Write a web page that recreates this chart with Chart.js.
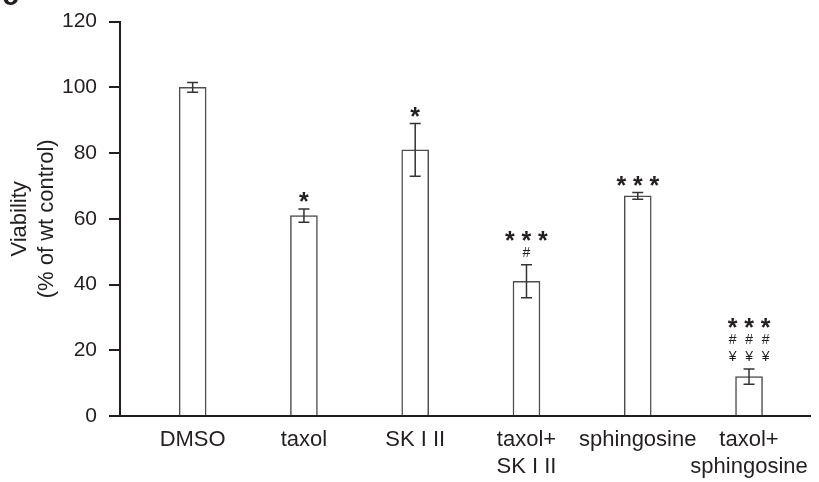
<!DOCTYPE html>
<html>
<head>
<meta charset="utf-8">
<script src="https://cdn.jsdelivr.net/npm/chart.js@4/dist/chart.umd.min.js"></script>
<style>
  html, body { margin: 0; padding: 0; background: #fff; }
  #wrap { width: 819px; height: 482px; }
</style>
</head>
<body>
<div id="wrap"><canvas id="c" width="819" height="482"></canvas></div>
<script>
// ---- data ----
const categories = [
  ['DMSO'], ['taxol'], ['SK I II'], ['taxol+', 'SK I II'], ['sphingosine'], ['taxol+', 'sphingosine']
];
const viability = [100, 61, 81, 41, 67, 12];
const errors = [1.5, 2, 8, 5, 1, 2.3];
const significance = [
  [],
  ['*'],
  ['*'],
  ['***', '#'],
  ['***'],
  ['***', '###', '¥¥¥']
];
const yTicks = [0, 20, 40, 60, 80, 100, 120];

const INK = '#231f20';
const FONT = "'Liberation Sans', Arial, Helvetica, sans-serif";

const errorBarPlugin = {
  id: 'errorBars',
  afterDatasetsDraw(chart) {
    const { ctx, scales: { x, y } } = chart;
    ctx.save();
    ctx.strokeStyle = '#333';
    ctx.lineWidth = 1.5;
    viability.forEach((v, i) => {
      const px = x.getPixelForValue(i);
      const top = y.getPixelForValue(v + errors[i]);
      const bot = y.getPixelForValue(v - errors[i]);
      ctx.beginPath();
      ctx.moveTo(px, top); ctx.lineTo(px, bot);
      ctx.moveTo(px - 5.5, top); ctx.lineTo(px + 5.5, top);
      ctx.moveTo(px - 5.5, bot); ctx.lineTo(px + 5.5, bot);
      ctx.stroke();
    });
    // significance marks
    ctx.fillStyle = INK;
    ctx.textAlign = 'center';
    ctx.textBaseline = 'alphabetic';
    viability.forEach((v, i) => {
      const lines = significance[i];
      if (!lines.length) return;
      const px = x.getPixelForValue(i);
      let cy = y.getPixelForValue(v + errors[i]) - 13;
      for (let l = lines.length - 1; l >= 0; l--) {
        const chars = Array.from(lines[l]);
        const isStar = chars[0] === '*';
        const size = isStar ? 25 : 14;
        ctx.font = (isStar ? 'bold ' : '') + size + 'px ' + FONT;
        const off = isStar ? 0.57 * size : 0.36 * size;
        const n = chars.length;
        chars.forEach((ch, k) => {
          ctx.fillText(ch, px + (k - (n - 1) / 2) * 16.5, cy + off);
        });
        cy -= isStar ? 16 : 17;
      }
    });
    // panel letter (cut off at top)
    ctx.font = 'bold 30px ' + FONT;
    ctx.textAlign = 'left';
    ctx.fillText('c', 2, 5);
    ctx.restore();
  }
};

new Chart(document.getElementById('c'), {
  type: 'bar',
  data: {
    datasets: [{
      data: viability.map((v, i) => ({ x: i, y: v })),
      backgroundColor: '#ffffff',
      borderColor: '#4d4d4d',
      borderWidth: 1.5,
      barThickness: 27
    }]
  },
  options: {
    responsive: false,
    animation: false,
    devicePixelRatio: 1,
    layout: { padding: { left: 4, top: 21.7, right: 9, bottom: 2 } },
    plugins: { legend: { display: false }, tooltip: { enabled: false } },
    scales: {
      x: {
        type: 'linear',
        offset: false,
        min: -0.653,
        max: 5.548,
        afterBuildTicks: (scale) => { scale.ticks = categories.map((c, i) => ({ value: i })); },
        afterFit: (scale) => { scale.height = 64; },
        ticks: {
          autoSkip: false,
          maxRotation: 0,
          padding: 10,
          color: INK,
          font: { family: FONT, size: 22, lineHeight: 1.23 },
          callback: (v) => categories[v]
        },
        grid: { display: false, drawTicks: false, offset: false },
        border: { display: true, color: INK, width: 2 }
      },
      y: {
        min: 0,
        max: 120,
        afterBuildTicks: (scale) => { scale.ticks = yTicks.map(v => ({ value: v })); },
        afterFit: (scale) => { scale.width = 116; scale.paddingTop = 0; scale.paddingBottom = 0; },
        ticks: {
          padding: 12,
          color: INK,
          font: { family: FONT, size: 21 }
        },
        grid: { drawOnChartArea: false, drawTicks: true, tickLength: 11, color: INK, lineWidth: 2 },
        border: { display: true, color: INK, width: 2 },
        title: {
          display: true,
          text: ['Viability', '(% of wt control)'],
          color: INK,
          font: { family: FONT, size: 22, lineHeight: 1.22 },
          padding: { top: 3, bottom: 1 }
        }
      }
    }
  },
  plugins: [errorBarPlugin]
});
</script>
</body>
</html>
